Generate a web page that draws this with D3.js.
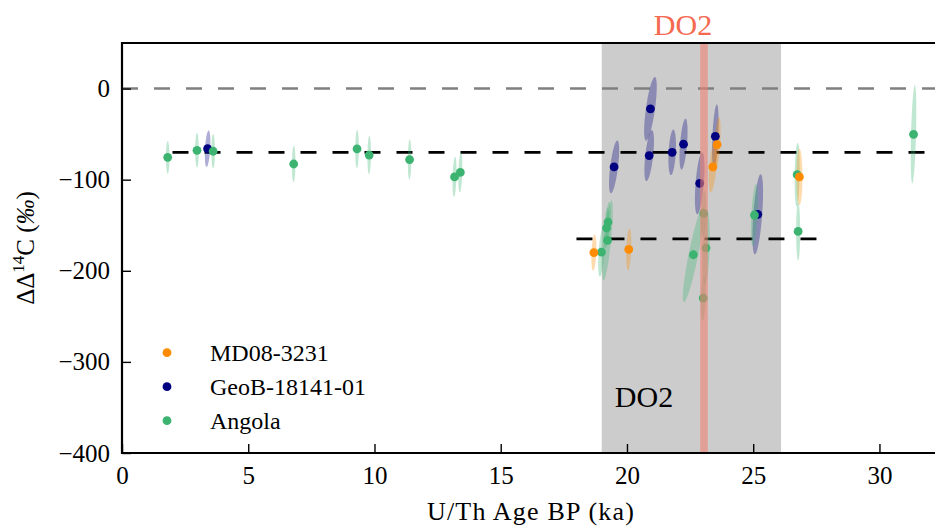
<!DOCTYPE html>
<html>
<head>
<meta charset="utf-8">
<script src="https://cdn.jsdelivr.net/npm/d3@7"></script>
<style>
  html, body { margin: 0; padding: 0; background: #fff; }
  svg { display: block; }
  text { font-family: "Liberation Serif", "Times New Roman", serif; fill: #000; }
</style>
</head>
<body>
<svg id="chart" width="935" height="529"></svg>
<script>
// Each row: [U/Th age (ka), ΔΔ14C (‰), age error (ka), ΔΔ14C error (‰), correlation]
const md08 = [
  [18.69, -180.0, 0.10, 20, 0.30],
  [20.07, -176.6, 0.10, 23, 0.30],
  [23.40,  -86.0, 0.16, 28, 0.50],
  [23.57,  -61.5, 0.14, 30, 0.55],
  [26.83,  -97.0, 0.12, 31, 0.00]
];
const geob = [
  [ 3.39,  -66.0, 0.11, 20, 0.37],
  [19.49,  -86.0, 0.20, 29, 0.63],
  [20.88,  -73.6, 0.19, 28, 0.57],
  [20.93,  -22.3, 0.25, 35, 0.69],
  [21.79,  -70.0, 0.15, 25, 0.32],
  [22.24,  -61.0, 0.16, 28, 0.50],
  [22.88, -104.0, 0.19, 34, 0.51],
  [23.50,  -52.4, 0.13, 35, 0.45],
  [25.18, -138.0, 0.21, 44, 0.55]
];
const angola = [
  [ 1.81,  -75.5, 0.07, 18, 0.00],
  [ 2.97,  -67.8, 0.07, 19, 0.00],
  [ 3.61,  -68.8, 0.07, 19, 0.00],
  [ 6.80,  -82.8, 0.07, 20, 0.10],
  [ 9.31,  -66.3, 0.07, 21, 0.10],
  [ 9.79,  -73.0, 0.07, 21, 0.10],
  [11.39,  -78.0, 0.07, 22, 0.10],
  [13.17,  -97.0, 0.08, 22, 0.30],
  [13.40,  -92.0, 0.08, 22, 0.30],
  [18.99, -179.5, 0.13, 27, 0.50],
  [19.19, -153.0, 0.10, 22, 0.40],
  [19.23, -166.7, 0.21, 44, 0.75],
  [19.25, -146.5, 0.10, 22, 0.40],
  [22.63, -182.4, 0.42, 52, 0.89],
  [23.04, -137.0, 0.10, 25, 0.30],
  [23.13, -175.0, 0.15, 40, 0.30],
  [23.02, -230.0, 0.10, 25, 0.30],
  [25.05, -138.8, 0.14, 34, 0.47],
  [26.74,  -94.5, 0.10, 35, 0.20],
  [26.78, -156.8, 0.08, 32, 0.00],
  [31.35,  -50.2, 0.11, 54, 0.46]
];

const seriesNames  = ["MD08-3231", "GeoB-18141-01", "Angola"];
const seriesColors = ["#ff8c00", "#000080", "#3cb371"];

// DO2 interval and the event itself (ka)
const do2Window = [19.0, 26.1];
const do2Event  = [22.9, 23.2];

// Reference levels: [start age, end age, ΔΔ14C]
const zeroLine    = [0, 32.2, 0];
const holoceneRef = [2.0, 33.0, -70];
const glacialRef  = [18.0, 27.6, -165];

const xTicks = [0, 5, 10, 15, 20, 25, 30];
const yTicks = [0, -100, -200, -300, -400];
const xDomain = [0, 32.2];
const yDomain = [-400, 50];

const FONT = "Liberation Serif, Times New Roman, serif";

const svg = d3.select("#chart");
const pLeft = 122, pRight = 935, pTop = 43, pBottom = 453;

const x = d3.scaleLinear().domain(xDomain).range([pLeft, pRight]);
const y = d3.scaleLinear().domain(yDomain).range([pBottom, pTop]);

svg.append("defs").append("clipPath").attr("id", "plotClip")
  .append("rect").attr("x", pLeft).attr("y", pTop)
  .attr("width", pRight - pLeft).attr("height", pBottom - pTop);

const plot = svg.append("g").attr("clip-path", "url(#plotClip)");

// DO2 interval shading
plot.append("rect")
  .attr("x", x(do2Window[0])).attr("y", pTop)
  .attr("width", x(do2Window[1]) - x(do2Window[0]))
  .attr("height", pBottom - pTop)
  .attr("fill", "#cccccc");

// zero line
plot.append("line")
  .attr("x1", x(zeroLine[0])).attr("x2", x(zeroLine[1]))
  .attr("y1", y(zeroLine[2])).attr("y2", y(zeroLine[2]))
  .attr("stroke", "#808080").attr("stroke-width", 2.6)
  .attr("stroke-dasharray", "16,16");

// reference levels
[holoceneRef, glacialRef].forEach(r => {
  plot.append("line")
    .attr("x1", x(r[0])).attr("x2", x(r[1]))
    .attr("y1", y(r[2])).attr("y2", y(r[2]))
    .attr("stroke", "#000").attr("stroke-width", 2.8)
    .attr("stroke-dasharray", "16,16");
});

// error ellipse from age/value errors and their correlation
function ellipsePath(d) {
  const [a, v, sa, sv, rho] = d;
  const k = Math.sqrt(1 - rho * rho);
  const pts = d3.range(0, 73).map(i => {
    const t = i / 72 * 2 * Math.PI;
    return [x(a + sa * Math.cos(t)), y(v + sv * (rho * Math.cos(t) + k * Math.sin(t)))];
  });
  return d3.line()(pts) + "Z";
}

const drawOrder = [[geob, 1], [angola, 2], [md08, 0]];
drawOrder.forEach(([data, idx]) => {
  plot.append("g").selectAll("path").data(data).join("path")
    .attr("d", ellipsePath)
    .attr("fill", seriesColors[idx]).attr("fill-opacity", 0.32)
    .attr("stroke", "none");
});
drawOrder.forEach(([data, idx]) => {
  plot.append("g").selectAll("circle").data(data).join("circle")
    .attr("cx", d => x(d[0])).attr("cy", d => y(d[1]))
    .attr("r", 4.4).attr("fill", seriesColors[idx]);
});

// DO2 event
plot.append("rect")
  .attr("x", x(do2Event[0])).attr("y", pTop)
  .attr("width", x(do2Event[1]) - x(do2Event[0]))
  .attr("height", pBottom - pTop)
  .attr("fill", "#f08070").attr("fill-opacity", 0.6);

// axes
const xAxis = d3.axisBottom(x).tickValues(xTicks).tickFormat(d3.format("d"))
  .tickSizeInner(-9).tickSizeOuter(0).tickPadding(13);
const gx = svg.append("g").attr("transform", `translate(0,${pBottom})`).call(xAxis);

const yFmt = d => d < 0 ? "\u2212" + Math.abs(d) : String(d);
const yAxis = d3.axisLeft(y).tickValues(yTicks).tickFormat(yFmt)
  .tickSizeInner(-9).tickSizeOuter(0).tickPadding(12);
const gy = svg.append("g").attr("transform", `translate(${pLeft},0)`).call(yAxis);

[gx, gy].forEach(g => {
  g.select(".domain").remove();
  g.selectAll(".tick line").attr("stroke", "#000").attr("stroke-width", 1.4);
  g.selectAll(".tick text").attr("font-family", FONT)
    .attr("font-size", 25).attr("fill", "#000");
});
gx.selectAll(".tick text").attr("dy", "0.72em");

// spines (top, left, bottom)
svg.append("path")
  .attr("d", `M${pRight},${pTop}H${pLeft}V${pBottom}H${pRight}`)
  .attr("fill", "none").attr("stroke", "#000").attr("stroke-width", 2.2);

// axis titles
svg.append("text")
  .attr("x", 531).attr("y", 520)
  .attr("text-anchor", "middle").attr("font-family", FONT).attr("font-size", 26)
  .attr("letter-spacing", 1.2)
  .text("U/Th Age BP (ka)");

const yl = svg.append("text")
  .attr("transform", "translate(34,248) rotate(-90)")
  .attr("text-anchor", "middle").attr("font-family", FONT).attr("font-size", 25);
yl.append("tspan").text("\u0394\u0394");
yl.append("tspan").attr("dy", -10).attr("font-size", 17).text("14");
yl.append("tspan").attr("dy", 10).text("C (");
yl.append("tspan").attr("font-style", "italic").text("\u2030");
yl.append("tspan").text(")");

// DO2 labels
svg.append("text")
  .attr("x", x((do2Event[0] + do2Event[1]) / 2) - 21).attr("y", 35)
  .attr("text-anchor", "middle").attr("font-family", FONT).attr("font-size", 30)
  .style("fill", "#f4694f")
  .text("DO2");
svg.append("text")
  .attr("x", 644).attr("y", 407)
  .attr("text-anchor", "middle").attr("font-family", FONT).attr("font-size", 30)
  .text("DO2");

// legend
const legend = svg.append("g");
seriesNames.forEach((name, i) => {
  const cy = 352.7 + i * 34;
  legend.append("circle").attr("cx", 167).attr("cy", cy).attr("r", 4.4)
    .attr("fill", seriesColors[i]);
  legend.append("text").attr("x", 210).attr("y", cy + 8)
    .attr("font-family", FONT).attr("font-size", 24).text(name);
});
</script>
</body>
</html>
